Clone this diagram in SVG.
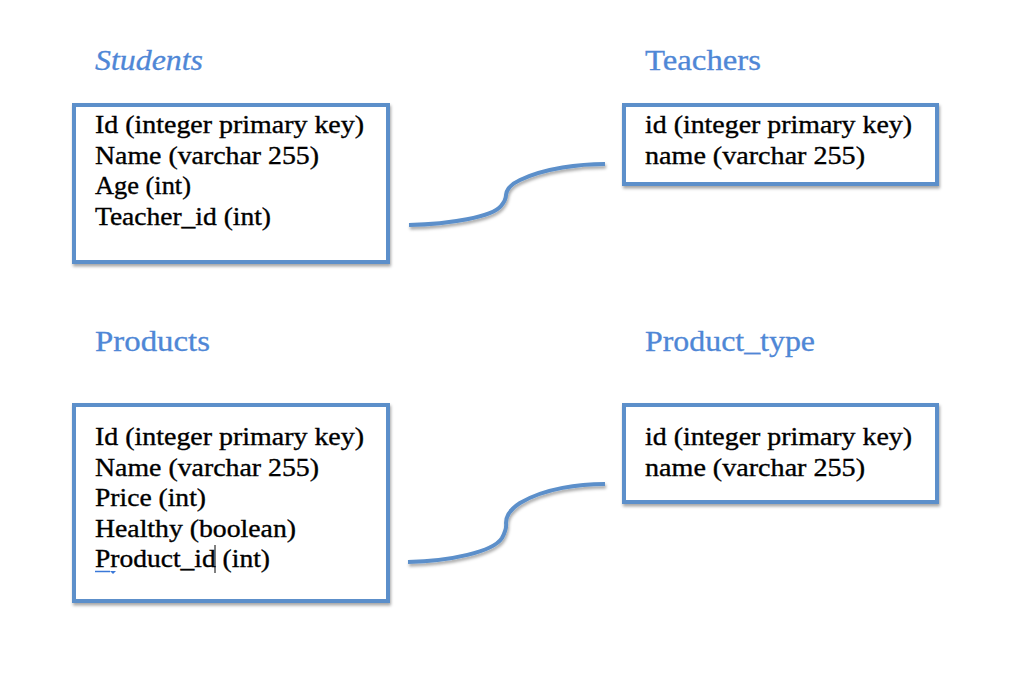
<svg xmlns="http://www.w3.org/2000/svg" width="1022" height="680" viewBox="0 0 1022 680">
<style>
  .box { fill: #ffffff; stroke: #5b8fca; stroke-width: 4; }
  .conn { fill: none; stroke: #5b8fca; stroke-width: 4; stroke-linecap: butt; }
  .title { font-family: "Liberation Serif", "DejaVu Serif", serif; font-size: 29px; fill: #4f87d6; stroke: #4f87d6; stroke-width: 0.3; }
  .row { font-family: "Liberation Serif", "DejaVu Serif", serif; font-size: 25px; fill: #000000; stroke: #000000; stroke-width: 0.35; }
</style>
<defs>
  <filter id="sh" x="-10%" y="-10%" width="120%" height="130%">
    <feDropShadow dx="1" dy="2.5" stdDeviation="1.5" flood-color="#000000" flood-opacity="0.35"/>
  </filter>
</defs>
<rect x="0" y="0" width="1022" height="680" fill="#ffffff"/>

<g id="connectors">
  <path class="conn" filter="url(#sh)" d="M409,225 C450,224 492,217 501,206 Q506,200 506,195 Q507,186 520,180 C545,168 580,164 605,164"/>
  <path class="conn" filter="url(#sh)" d="M408,562 C450,561 493,552 502,538 Q507,529 506,523 Q506,512 520,503 C545,488 580,484 605,484"/>
</g>

<g id="students">
  <text class="title" x="95" y="70" font-style="italic" textLength="108" lengthAdjust="spacingAndGlyphs">Students</text>
  <rect class="box" filter="url(#sh)" x="74" y="105" width="314" height="157"/>
  <text class="row" x="95" y="133" textLength="269" lengthAdjust="spacingAndGlyphs">Id (integer primary key)</text>
  <text class="row" x="95" y="163.5" textLength="224" lengthAdjust="spacingAndGlyphs">Name (varchar 255)</text>
  <text class="row" x="95" y="194" textLength="96" lengthAdjust="spacingAndGlyphs">Age (int)</text>
  <text class="row" x="95" y="224.5" textLength="176" lengthAdjust="spacingAndGlyphs">Teacher_id (int)</text>
</g>

<g id="teachers">
  <text class="title" x="645" y="70" textLength="116" lengthAdjust="spacingAndGlyphs">Teachers</text>
  <rect class="box" filter="url(#sh)" x="624" y="105" width="313" height="79"/>
  <text class="row" x="645" y="133" textLength="267" lengthAdjust="spacingAndGlyphs">id (integer primary key)</text>
  <text class="row" x="645" y="163.5" textLength="220" lengthAdjust="spacingAndGlyphs">name (varchar 255)</text>
</g>

<g id="products">
  <text class="title" x="95" y="351" textLength="115" lengthAdjust="spacingAndGlyphs">Products</text>
  <rect class="box" filter="url(#sh)" x="74" y="405" width="314" height="196"/>
  <text class="row" x="95" y="445" textLength="269" lengthAdjust="spacingAndGlyphs">Id (integer primary key)</text>
  <text class="row" x="95" y="475.5" textLength="224" lengthAdjust="spacingAndGlyphs">Name (varchar 255)</text>
  <text class="row" x="95" y="506" textLength="111" lengthAdjust="spacingAndGlyphs">Price (int)</text>
  <text class="row" x="95" y="536.5" textLength="201" lengthAdjust="spacingAndGlyphs">Healthy (boolean)</text>
  <text class="row" x="95" y="567" textLength="175" lengthAdjust="spacingAndGlyphs">Product_id (int)</text>
  <line x1="215" y1="545" x2="215" y2="573" stroke="#000000" stroke-width="1"/>
  <line x1="95" y1="571.5" x2="110" y2="571.5" stroke="#3a78d8" stroke-width="1.5"/>
  <path d="M110,571 L116,571 L113,574 Z" fill="#3a78d8"/>
</g>

<g id="product_type">
  <text class="title" x="645" y="351" textLength="170" lengthAdjust="spacingAndGlyphs">Product_type</text>
  <rect class="box" filter="url(#sh)" x="624" y="405" width="313" height="97"/>
  <text class="row" x="645" y="445" textLength="267" lengthAdjust="spacingAndGlyphs">id (integer primary key)</text>
  <text class="row" x="645" y="475.5" textLength="220" lengthAdjust="spacingAndGlyphs">name (varchar 255)</text>
</g>
</svg>
